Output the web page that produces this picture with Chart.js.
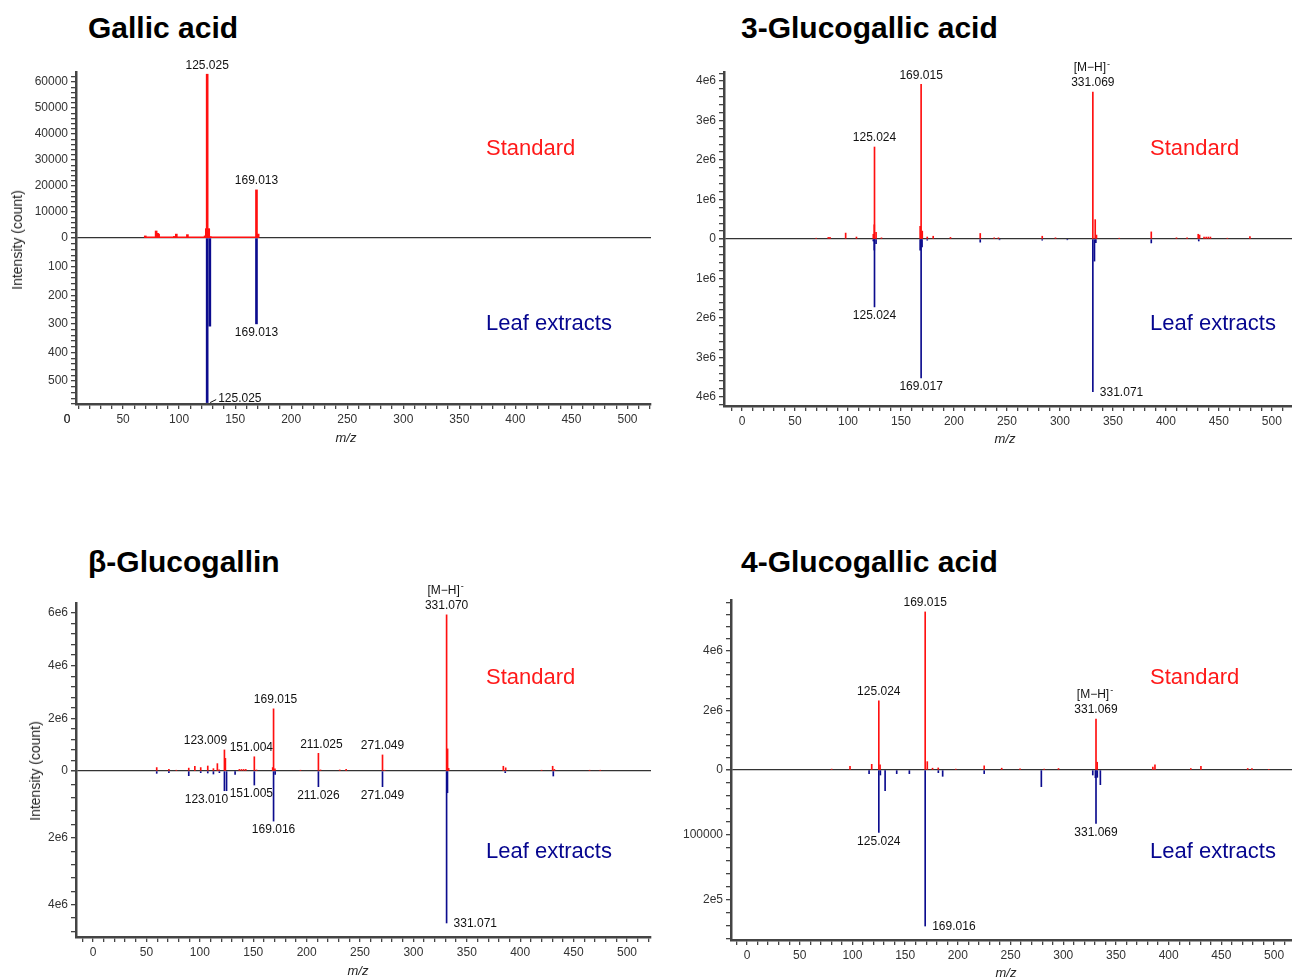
<!DOCTYPE html>
<html>
<head>
<meta charset="utf-8">
<script src="https://cdn.jsdelivr.net/npm/chart.js@4.4.1/dist/chart.umd.min.js"></script>
<style>
  body { margin: 0; background: #fff; width: 1292px; height: 980px; position: relative; overflow: hidden;
         font-family: "Liberation Sans", Arial, sans-serif; }
  canvas { position: absolute; }
  .title { position: absolute; font-weight: bold; font-size: 30px; line-height: 1; color: #000; white-space: nowrap; }
  .tag { position: absolute; font-size: 22px; line-height: 1; white-space: nowrap; }
  .std { color: #ff1a1a; }
  .leaf { color: #06068f; }
  .mz { position: absolute; font-size: 13px; font-style: italic; color: #222; transform: translate(-50%, -50%); }
  .ylab { position: absolute; font-size: 14px; color: #222; white-space: nowrap;
          transform: translate(-50%, -50%) rotate(-90deg); }
</style>
</head>
<body>
<div class="title" style="left:88px;top:13px">Gallic acid</div>
<div class="title" style="left:741px;top:13px">3-Glucogallic acid</div>
<div class="title" style="left:88px;top:547px">β-Glucogallin</div>
<div class="title" style="left:741px;top:547px">4-Glucogallic acid</div>

<canvas id="c1" width="660" height="400" style="left:0;top:50px"></canvas>
<canvas id="c2" width="632" height="400" style="left:660px;top:50px"></canvas>
<canvas id="c3" width="660" height="400" style="left:0;top:580px"></canvas>
<canvas id="c4" width="632" height="400" style="left:660px;top:580px"></canvas>

<div class="tag std" style="left:486px;top:137px">Standard</div>
<div class="tag leaf" style="left:486px;top:312px">Leaf extracts</div>
<div class="tag std" style="left:1150px;top:137px">Standard</div>
<div class="tag leaf" style="left:1150px;top:312px">Leaf extracts</div>
<div class="tag std" style="left:486px;top:666px">Standard</div>
<div class="tag leaf" style="left:486px;top:840px">Leaf extracts</div>
<div class="tag std" style="left:1150px;top:666px">Standard</div>
<div class="tag leaf" style="left:1150px;top:840px">Leaf extracts</div>

<div class="mz" style="left:346px;top:437px">m/z</div>
<div class="mz" style="left:1005px;top:438px">m/z</div>
<div class="mz" style="left:358px;top:970px">m/z</div>
<div class="mz" style="left:1006px;top:972px">m/z</div>

<div class="ylab" style="left:17px;top:240px">Intensity (count)</div>
<div class="ylab" style="left:35px;top:771px">Intensity (count)</div>

<script>
// ===== DATA =====
// x axis (m/z)
const xTicks = [0, 50, 100, 150, 200, 250, 300, 350, 400, 450, 500];
const xTickLabels = ["0", "50", "100", "150", "200", "250", "300", "350", "400", "450", "500"];

// Gallic acid
const gallicStdMz  = [69.8, 79.5, 80.8, 81.7, 95.7, 97.5, 107.4, 123.2, 124.3, 125.025, 126.4, 127.8, 169.013, 170.5];
const gallicStdInt = [800, 2700, 1800, 1500, 600, 1500, 1300, 800, 3600, 63000, 3600, 500, 18500, 1500];
const gallicNoiseMz  = [69, 171];
const gallicNoiseInt = [300, 300];
const gallicLeafMz  = [125.025, 127.4, 169.013];
const gallicLeafInt = [575, 308, 300];
const gallicStdLabels  = ["125.025", "169.013"];
const gallicLeafLabels = ["169.013", "125.025"];
const gallicTopTicks = [0, 10000, 20000, 30000, 40000, 50000, 60000];
const gallicTopTickLabels = ["0", "10000", "20000", "30000", "40000", "50000", "60000"];
const gallicBotTicks = [100, 200, 300, 400, 500];
const gallicBotTickLabels = ["100", "200", "300", "400", "500"];

// 3-Glucogallic acid
const g3StdMz  = [70, 81.4, 83, 97.8, 108, 123.9, 124.8, 125.024, 126.5, 131.6, 168.1, 169.015, 170.1, 174.8, 180.4,
                  196.7, 224.8, 238, 242, 283.3, 295.8, 331.069, 333.3, 334.5, 356, 386.2, 410, 420, 430.5, 431.8,
                  436, 438, 440, 442, 458, 479.3];
const g3StdInt = [0.02e6, 0.04e6, 0.04e6, 0.15e6, 0.05e6, 0.12e6, 0.36e6, 2.33e6, 0.17e6, 0.03e6, 0.32e6, 3.92e6, 0.2e6,
                  0.05e6, 0.07e6, 0.04e6, 0.14e6, 0.03e6, 0.03e6, 0.07e6, 0.03e6, 3.72e6, 0.49e6, 0.1e6, 0.02e6,
                  0.18e6, 0.03e6, 0.03e6, 0.12e6, 0.1e6, 0.05e6, 0.05e6, 0.05e6, 0.05e6, 0.02e6, 0.06e6];
const g3LeafMz  = [123.9, 124.8, 125.024, 126.5, 168.1, 169.017, 169.9, 174.8, 224.8, 243, 283.3, 307, 331.071, 332.6,
                   333.9, 386.2, 431];
const g3LeafInt = [0.05e6, 0.28e6, 1.72e6, 0.12e6, 0.28e6, 3.52e6, 0.2e6, 0.03e6, 0.08e6, 0.02e6, 0.03e6, 0.02e6,
                   3.87e6, 0.56e6, 0.09e6, 0.1e6, 0.05e6];
const g3StdLabels  = ["125.024", "169.015", "331.069"];
const g3LeafLabels = ["125.024", "169.017", "331.071"];
const g3TopTicks = [0, 1e6, 2e6, 3e6, 4e6];
const g3TopTickLabels = ["0", "1e6", "2e6", "3e6", "4e6"];
const g3BotTicks = [1e6, 2e6, 3e6, 4e6];
const g3BotTickLabels = ["1e6", "2e6", "3e6", "4e6"];

// β-Glucogallin
const bgStdMz  = [59.6, 71, 78, 89.6, 95.3, 100.8, 107.4, 112.7, 116.4, 118, 123.009, 123.9, 137, 139, 141, 143,
                  151.004, 153, 168.2, 169.015, 170.3, 194.2, 211.025, 213, 231, 237, 271.049, 273, 331.07, 332,
                  333, 384.2, 386.4, 420, 430.4, 432, 465, 475];
const bgStdInt = [0.13e6, 0.06e6, 0.03e6, 0.11e6, 0.18e6, 0.13e6, 0.19e6, 0.09e6, 0.28e6, 0.04e6, 0.8e6, 0.48e6,
                  0.06e6, 0.06e6, 0.06e6, 0.06e6, 0.54e6, 0.04e6, 0.13e6, 2.36e6, 0.08e6, 0.03e6, 0.67e6, 0.04e6,
                  0.04e6, 0.06e6, 0.61e6, 0.03e6, 5.93e6, 0.84e6, 0.1e6, 0.18e6, 0.12e6, 0.03e6, 0.18e6, 0.06e6,
                  0.03e6, 0.03e6];
const bgLeafMz  = [59.6, 71, 89.6, 100.8, 107.4, 112.7, 118.3, 123.01, 125, 133, 151.005, 169.016, 170.5, 211.026,
                   271.049, 331.071, 331.9, 386, 431];
const bgLeafInt = [0.07e6, 0.05e6, 0.14e6, 0.05e6, 0.06e6, 0.09e6, 0.05e6, 0.59e6, 0.59e6, 0.1e6, 0.42e6, 1.5e6,
                   0.1e6, 0.47e6, 0.47e6, 4.55e6, 0.65e6, 0.05e6, 0.15e6];
const bgStdLabels  = ["123.009", "151.004", "169.015", "211.025", "271.049", "331.070"];
const bgLeafLabels = ["123.010", "151.005", "169.016", "211.026", "271.049", "331.071"];
const bgTopTicks = [0, 2e6, 4e6, 6e6];
const bgTopTickLabels = ["0", "2e6", "4e6", "6e6"];
const bgBotTicks = [2e6, 4e6];
const bgBotTickLabels = ["2e6", "4e6"];

// 4-Glucogallic acid
const g4StdMz  = [80.3, 97.7, 118.3, 125.024, 126.2, 169.015, 171, 176, 181.4, 198, 225, 241.6, 259, 282, 295.5,
                  331.069, 332.2, 385, 387, 421, 430.6, 475, 479, 495];
const g4StdInt = [0.03e6, 0.12e6, 0.19e6, 2.32e6, 0.17e6, 5.3e6, 0.28e6, 0.06e6, 0.07e6, 0.03e6, 0.14e6, 0.06e6,
                  0.04e6, 0.03e6, 0.05e6, 1.71e6, 0.26e6, 0.1e6, 0.17e6, 0.05e6, 0.12e6, 0.05e6, 0.05e6, 0.02e6];
const g4LeafMz  = [115.8, 125.024, 126.5, 131, 142, 154, 169.016, 181.5, 185.6, 225, 279.2, 328, 330.5, 331.069,
                   332.3, 335.2];
const g4LeafInt = [5600, 96000, 7700, 31800, 5600, 5600, 240000, 4100, 9700, 5600, 25600, 7700, 11800, 82000,
                   11300, 22600];
const g4StdLabels  = ["125.024", "169.015", "331.069"];
const g4LeafLabels = ["125.024", "331.069", "169.016"];
const g4TopTicks = [0, 2e6, 4e6];
const g4TopTickLabels = ["0", "2e6", "4e6"];
const g4BotTicks = [100000, 200000];
const g4BotTickLabels = ["100000", "2e5"];

// ===== ESTILO =====
const RED = "#ff1010";
const BLUE = "#0c0c8e";
const AXIS = "#444";
const TICK_FONT = { family: '"Liberation Sans", Arial, sans-serif', size: 12 };
const LABEL_FONT = '12px "Liberation Sans", Arial, sans-serif';

// rótulos dos picos
const peakLabels = {
    id: "peakLabels",
    afterDatasetsDraw(chart, args, opts) {
        const ctx = chart.ctx;
        const xs = chart.scales.x;
        ctx.save();
        ctx.font = LABEL_FONT;
        ctx.fillStyle = "#111";
        ctx.textBaseline = "middle";
        ctx.strokeStyle = "#111";
        ctx.lineWidth = 1;
        for (const l of opts.items) {
            const ys = chart.scales[l.axis];
            const px = xs.getPixelForValue(l.mz);
            const py = ys.getPixelForValue(l.value);
            const sign = l.axis === "yTop" ? -1 : 1;
            if (l.place === "right") {
                ctx.textAlign = "left";
                if (l.leader) {
                    ctx.beginPath();
                    ctx.moveTo(px + 3, py);
                    ctx.lineTo(px + 9, py - 3);
                    ctx.stroke();
                    ctx.fillText(l.text, px + 11, py - 4);
                } else {
                    ctx.fillText(l.text, px + 7, py + 1);
                }
            } else {
                ctx.textAlign = "center";
                const ty = py + sign * 9;
                ctx.fillText(l.text, px + l.dx, ty);
                if (l.precursor) {
                    const t = "[M\u2212H]";
                    const w = ctx.measureText(t).width;
                    const cx = px - 3;
                    ctx.fillText(t, cx, ty - 15);
                    ctx.font = '9px "Liberation Sans", Arial, sans-serif';
                    ctx.textAlign = "left";
                    ctx.fillText("-", cx + w / 2 + 1, ty - 19);
                    ctx.font = LABEL_FONT;
                }
            }
        }
        ctx.restore();
    }
};

function tickValues(min, max, minor, major) {
    const vals = new Set(major.filter(v => v <= max));
    for (let k = Math.ceil(min / minor); k * minor <= max; k++) vals.add(Math.round(k * minor));
    return [...vals].sort((a, b) => a - b);
}

function yAxis(o, reverse, width) {
    return {
        type: "linear", position: "left", stack: "mirror", stackWeight: o.weight, weight: reverse ? 0 : 1,
        reverse: reverse, min: 0, max: o.max, offset: false,
        afterBuildTicks: s => { s.ticks = tickValues(0, o.max, o.minor, o.ticks).map(v => ({ value: v })); },
        afterFit: s => { s.width = width; },
        ticks: {
            autoSkip: false, padding: 3, color: "#333", font: TICK_FONT,
            callback: v => { const i = o.ticks.indexOf(v); return i >= 0 ? o.labels[i] : ""; }
        },
        grid: {
            tickLength: 5, tickColor: AXIS, lineWidth: 1.3,
            color: c => (!reverse && c.tick && c.tick.value === 0) ? "#333" : "rgba(0,0,0,0)"
        },
        border: { color: AXIS, width: 2.5 }
    };
}

function makeChart(p) {
    const items = [];
    const addLabels = (texts, mzArr, intArr, axis, lay) => {
        texts.forEach((t, i) => {
            const mz = parseFloat(t);
            const j = mzArr.findIndex(m => Math.abs(m - mz) < 1e-6);
            items.push({
                text: t, mz: mz, value: intArr[j], axis: axis,
                place: (lay.place && lay.place[i]) || "tip", dx: (lay.dx && lay.dx[i]) || 0,
                precursor: lay.prec && lay.prec[i], leader: lay.leader && lay.leader[i]
            });
        });
    };
    addLabels(p.stdLabels, p.std[0], p.std[1], "yTop", p.stdLay);
    addLabels(p.leafLabels, p.leaf[0], p.leaf[1], "yBot", p.leafLay);

    const datasets = [
        { label: "Standard", data: p.std[0].map((m, i) => ({ x: m, y: p.std[1][i] })), yAxisID: "yTop",
          backgroundColor: RED, barThickness: p.bar, grouped: false, borderWidth: 0 },
        { label: "Leaf extracts", data: p.leaf[0].map((m, i) => ({ x: m, y: p.leaf[1][i] })), yAxisID: "yBot",
          backgroundColor: BLUE, barThickness: p.bar, grouped: false, borderWidth: 0 }
    ];
    if (p.noise) {
        datasets.push({ type: "line", data: p.noise[0].map((m, i) => ({ x: m, y: p.noise[1][i] })), yAxisID: "yTop",
            borderColor: RED, borderWidth: 1.5, pointRadius: 0 });
    }

    const xv = tickValues(p.xMin, p.xMax, 10, xTicks);
    return new Chart(document.getElementById(p.id), {
        type: "bar",
        data: { datasets: datasets },
        options: {
            responsive: false, animation: false,
            layout: { padding: p.pad },
            plugins: { legend: { display: false }, tooltip: { enabled: false }, peakLabels: { items: items } },
            scales: {
                x: {
                    type: "linear", min: p.xMin, max: p.xMax, offset: false,
                    afterBuildTicks: s => {
                        const v = xv.slice();
                        if (p.xMin > 0) v.unshift(0);
                        s.ticks = v.map(x => ({ value: x }));
                    },
                    afterFit: s => { s.height = p.xH; },
                    ticks: {
                        autoSkip: false, maxRotation: 0, padding: 3, color: "#333", font: TICK_FONT,
                        callback: v => { const i = xTicks.indexOf(v); return i >= 0 ? xTickLabels[i] : ""; }
                    },
                    grid: {
                        drawOnChartArea: false, offset: false, tickLength: 5, lineWidth: 1.3,
                        tickColor: c => (c.tick && c.tick.value < p.xMin) ? "rgba(0,0,0,0)" : AXIS
                    },
                    border: { color: AXIS, width: 2.5 }
                },
                yTop: yAxis(p.top, false, p.yW),
                yBot: yAxis(p.bot, true, p.yW)
            }
        },
        plugins: [peakLabels]
    });
}

// ===== PAINÉIS =====
const panels = [
    { id: "c1", pad: { top: 22, right: 9, bottom: 0, left: 0 }, yW: 76, xH: 46, xMin: 8, xMax: 521, bar: 2,
      std: [gallicStdMz, gallicStdInt], leaf: [gallicLeafMz, gallicLeafInt], noise: [gallicNoiseMz, gallicNoiseInt],
      top: { max: 63850, minor: 2000, ticks: gallicTopTicks, labels: gallicTopTickLabels, weight: 1 },
      bot: { max: 580, minor: 20, ticks: gallicBotTicks, labels: gallicBotTickLabels, weight: 1 },
      stdLabels: gallicStdLabels, leafLabels: gallicLeafLabels,
      stdLay: {}, leafLay: { place: ["tip", "right"], leader: [false, true] } },
    { id: "c2", pad: { top: 22, right: 0, bottom: 0, left: 0 }, yW: 64, xH: 44, xMin: -17, xMax: 519, bar: 1,
      std: [g3StdMz, g3StdInt], leaf: [g3LeafMz, g3LeafInt],
      top: { max: 4.23e6, minor: 2e5, ticks: g3TopTicks, labels: g3TopTickLabels, weight: 1 },
      bot: { max: 4.23e6, minor: 2e5, ticks: g3BotTicks, labels: g3BotTickLabels, weight: 1 },
      stdLabels: g3StdLabels, leafLabels: g3LeafLabels,
      stdLay: { prec: [false, false, true] }, leafLay: { place: ["tip", "tip", "right"] } },
    { id: "c3", pad: { top: 23, right: 9, bottom: 0, left: 0 }, yW: 76, xH: 43, xMin: -16, xMax: 522.5, bar: 1,
      std: [bgStdMz, bgStdInt], leaf: [bgLeafMz, bgLeafInt],
      top: { max: 6.38e6, minor: 4e5, ticks: bgTopTicks, labels: bgTopTickLabels, weight: 168 },
      bot: { max: 4.97e6, minor: 4e5, ticks: bgBotTicks, labels: bgBotTickLabels, weight: 166 },
      stdLabels: bgStdLabels, leafLabels: bgLeafLabels,
      stdLay: { dx: [-19, -3, 2, 3, 0, 0], prec: [false, false, false, false, false, true] },
      leafLay: { dx: [-18, -3, 0, 0, 0, 0], place: ["tip", "tip", "tip", "tip", "tip", "right"] } },
    { id: "c4", pad: { top: 20, right: 0, bottom: 0, left: 0 }, yW: 71, xH: 40, xMin: -15.2, xMax: 517, bar: 1,
      std: [g4StdMz, g4StdInt], leaf: [g4LeafMz, g4LeafInt],
      top: { max: 5.7e6, minor: 4e5, ticks: g4TopTicks, labels: g4TopTickLabels, weight: 1 },
      bot: { max: 261500, minor: 20000, ticks: g4BotTicks, labels: g4BotTickLabels, weight: 1 },
      stdLabels: g4StdLabels, leafLabels: g4LeafLabels,
      stdLay: { prec: [false, false, true] }, leafLay: { place: ["tip", "tip", "right"] } }
];

panels.forEach(makeChart);
</script>
</body>
</html>
